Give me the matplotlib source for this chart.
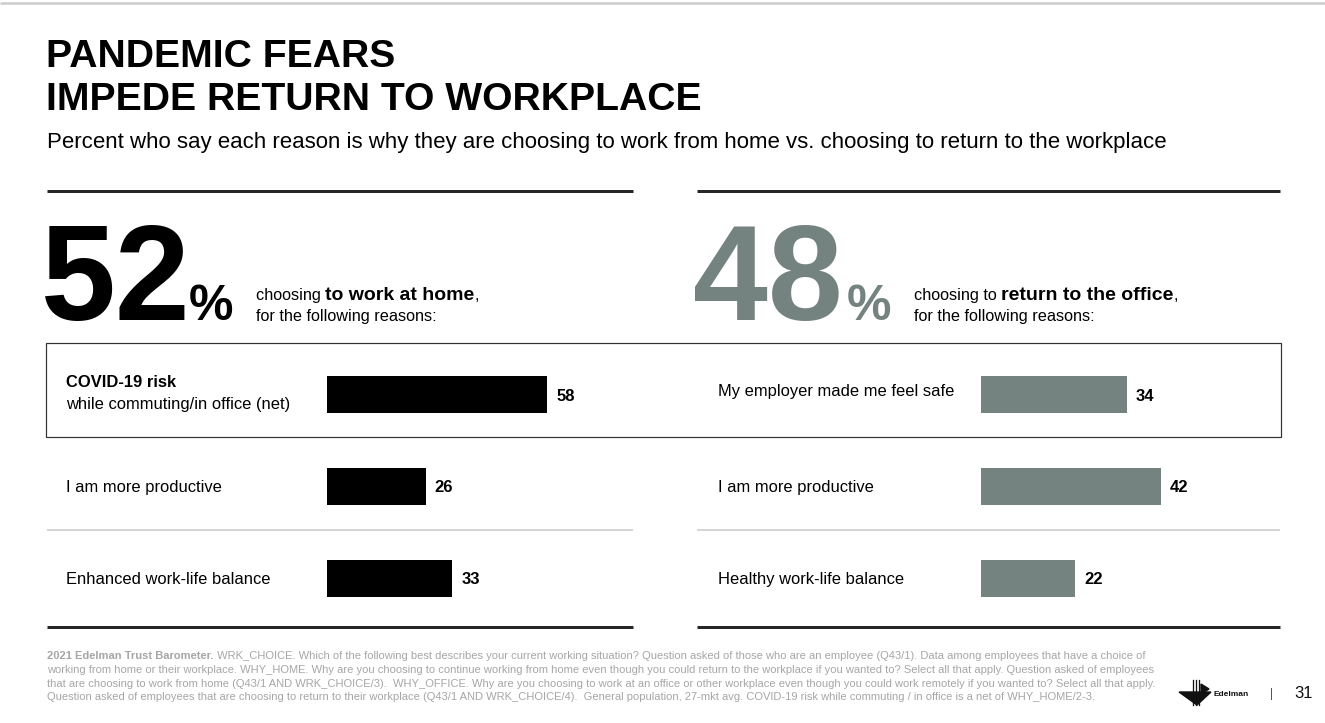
import matplotlib
matplotlib.use("Agg")
import matplotlib.pyplot as plt
from matplotlib import font_manager
from matplotlib.patches import Rectangle, Polygon
import matplotlib.transforms as mtransforms

# ---------------- data ----------------
title_lines = ["PANDEMIC FEARS", "IMPEDE RETURN TO WORKPLACE"]
subtitle = "Percent who say each reason is why they are choosing to work from home vs. choosing to return to the workplace"

left_total = 52
right_total = 48
left_head = ["choosing ", "to work at home", ","]
right_head = ["choosing to ", "return to the office", ","]
head_line2 = "for the following reasons:"

left_cat_main = ["COVID-19 risk", "I am more productive", "Enhanced work-life balance"]
left_cat_sub = ["while commuting/in office (net)", "", ""]
left_values = [58, 26, 33]

right_categories = ["My employer made me feel safe", "I am more productive", "Healthy work-life balance"]
right_values = [34, 42, 22]

footer_bold = "2021 Edelman Trust Barometer."
footer_lines = [
    " WRK_CHOICE. Which of the following best describes your current working situation? Question asked of those who are an employee (Q43/1). Data among employees that have a choice of",
    "working from home or their workplace. WHY_HOME. Why are you choosing to continue working from home even though you could return to the workplace if you wanted to? Select all that apply. Question asked of employees",
    "that are choosing to work from home (Q43/1 AND WRK_CHOICE/3).  WHY_OFFICE. Why are you choosing to work at an office or other workplace even though you could work remotely if you wanted to? Select all that apply.",
    "Question asked of employees that are choosing to return to their workplace (Q43/1 AND WRK_CHOICE/4).  General population, 27-mkt avg. COVID-19 risk while commuting / in office is a net of WHY_HOME/2-3.",
]
page_number = "31"
brand = "Edelman"

# ---------------- style ----------------
FONT = "Liberation Sans"
names = {f.name for f in font_manager.fontManager.ttflist}
NARROW = "Liberation Sans Narrow" if "Liberation Sans Narrow" in names else FONT
plt.rcParams["font.family"] = [FONT, "DejaVu Sans"]

BLACK = "#000000"
INK = "#000000"
GRAY = "#758380"
DARK_LINE = "#262626"
LIGHT_LINE = "#c8c8c8"
FOOT = "#a6a6a6"

W, H = 1325, 723
fig = plt.figure(figsize=(W / 100, H / 100), dpi=100)
fig.patch.set_facecolor("white")

bg = fig.add_axes([0, 0, 1, 1])
bg.set_xlim(0, W)
bg.set_ylim(H, 0)
bg.axis("off")

def px(v):
    return v * 72 / 100.0  # pixel -> points

# top grey line
bg.plot([0, W], [3, 3], color="#cccccc", lw=px(2.5), solid_capstyle="butt")

# title
bg.text(46, 67, title_lines[0], fontsize=28.2, fontweight="bold", color=INK, va="baseline")
bg.text(46, 110, title_lines[1], fontsize=28.2, fontweight="bold", color=INK, va="baseline")
bg.text(47, 148, subtitle, fontsize=16.0, color=INK, va="baseline")

# panel lines
for x0, x1 in [(47, 633), (697, 1280)]:
    bg.plot([x0, x1], [191, 191], color=DARK_LINE, lw=px(3), solid_capstyle="butt")
    bg.plot([x0, x1], [627, 627], color=DARK_LINE, lw=px(3), solid_capstyle="butt")
    bg.plot([x0, x1], [530, 530], color=LIGHT_LINE, lw=px(1.5), solid_capstyle="butt")

# highlight box
bg.add_patch(Rectangle((46, 343), 1235, 94, fill=False, edgecolor="#333333", lw=px(1.2)))

# big numbers
bg.text(41, 320, str(left_total), fontsize=97, fontweight="bold", color=BLACK, va="baseline",
        family=NARROW)
bg.text(189, 320, "%", fontsize=36, fontweight="bold", color=BLACK, va="baseline")
bg.text(693, 320, str(right_total), fontsize=97, fontweight="bold", color=GRAY, va="baseline",
        family=NARROW)
bg.text(847, 320, "%", fontsize=36, fontweight="bold", color=GRAY, va="baseline")

fig.canvas.draw()
renderer = fig.canvas.get_renderer()

def runs(x, y, parts, styles):
    for txt, (size, weight) in zip(parts, styles):
        t = bg.text(x, y, txt, fontsize=size, fontweight=weight, color=INK, va="baseline")
        bb = t.get_window_extent(renderer=renderer)
        x += bb.width

head_styles = [(11.7, "normal"), (14.0, "bold"), (11.7, "normal")]
runs(256, 300, left_head, head_styles)
bg.text(256, 321, head_line2, fontsize=11.7, color=INK, va="baseline")
runs(914, 300, right_head, head_styles)
bg.text(914, 321, head_line2, fontsize=11.7, color=INK, va="baseline")

# ---------------- bar axes ----------------
def fig_rect(x0, y0, x1, y1):
    return [x0 / W, 1 - y1 / H, (x1 - x0) / W, (y1 - y0) / H]

rows_top, rows_bot = 349, 624
L_SCALE = 3.80   # px per unit
R_SCALE = 4.28

axL = fig.add_axes(fig_rect(327, rows_top, 627, rows_bot))
axL.set_xlim(0, 300 / L_SCALE)
axR = fig.add_axes(fig_rect(981, rows_top, 1271, rows_bot))
axR.set_xlim(0, 290 / R_SCALE)

for ax, vals, col in [(axL, left_values, BLACK), (axR, right_values, GRAY)]:
    ax.set_ylim(len(vals) - 0.5, -0.5)
    ax.barh(range(len(vals)), vals, height=0.405, color=col, edgecolor=col, lw=0)
    for i, v in enumerate(vals):
        ax.annotate(str(v), (v, i), xytext=(px(9), px(-1.5)), textcoords="offset points",
                    ha="left", va="center", fontsize=12, fontweight="bold", color=INK)
    ax.axis("off")
    ax.patch.set_alpha(0)

# category labels
trL = mtransforms.blended_transform_factory(bg.transData, axL.transData)
trR = mtransforms.blended_transform_factory(bg.transData, axR.transData)
LAB = 11.9
for i, (main, sub) in enumerate(zip(left_cat_main, left_cat_sub)):
    if sub:
        axL.text(66, i - 0.13, main, transform=trL, fontsize=LAB, fontweight="bold",
                 va="center", ha="left", color=INK)
        axL.text(66, i + 0.10, sub, transform=trL, fontsize=LAB,
                 va="center", ha="left", color=INK)
    else:
        axL.text(66, i + 0.01, main, transform=trL, fontsize=LAB,
                 va="center", ha="left", color=INK)
for i, lab in enumerate(right_categories):
    dy = -0.035 if i == 0 else 0.01
    axR.text(718, i + dy, lab, transform=trR, fontsize=LAB,
             va="center", ha="left", color=INK)

# ---------------- footer ----------------
FS = 8.0
fy = [659, 673, 687, 700]
t = bg.text(47, fy[0], footer_bold, fontsize=FS, fontweight="bold", color=FOOT, va="baseline",
            family=NARROW)
bb = t.get_window_extent(renderer=renderer)
bg.text(47 + bb.width, fy[0], footer_lines[0], fontsize=FS, color=FOOT, va="baseline", family=NARROW)
for y, line in zip(fy[1:], footer_lines[1:]):
    bg.text(47, y, line, fontsize=FS, color=FOOT, va="baseline", family=NARROW)

# logo
bg.add_patch(Polygon([(1179, 692), (1211, 692), (1197, 705)], closed=True, color="#111111"))
for xv in [1193, 1196, 1199]:
    bg.plot([xv, xv], [680, 705], color="#111111", lw=px(1.3))
bg.add_patch(Polygon([(1201, 684), (1209, 689), (1201, 694)], closed=True, color="#111111"))
bg.text(1213, 694, brand, fontsize=6.0, fontweight="bold", color="#111111", va="center")
bg.plot([1271, 1271], [688, 699], color="#555555", lw=px(1))
bg.text(1294, 693.5, page_number, fontsize=12, color="#111111", va="center")

fig.savefig("out.png", dpi=100, facecolor="white")
